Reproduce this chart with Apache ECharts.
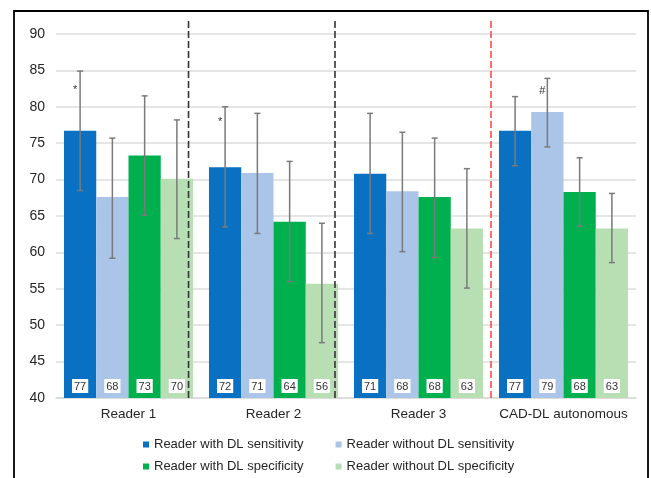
<!DOCTYPE html>
<html>
<head>
<meta charset="utf-8">
<script src="https://cdn.jsdelivr.net/npm/echarts@6/dist/echarts.min.js"></script>
<style>html,body{margin:0;padding:0;background:#fff;}#c{width:651px;height:478px;}</style>
</head>
<body>
<div id="c"></div>
<script>
var categories = ['Reader 1', 'Reader 2', 'Reader 3', 'CAD-DL autonomous'];
var seriesNames = ['Reader with DL sensitivity', 'Reader without DL sensitivity', 'Reader with DL specificity', 'Reader without DL specificity'];
var withDLSens = [76.7, 71.7, 70.8, 76.7];
var withoutDLSens = [67.6, 70.9, 68.4, 79.3];
var withDLSpec = [73.3, 64.2, 67.6, 68.3];
var withoutDLSpec = [70.1, 55.7, 63.3, 63.3];
// confidence intervals [low, high] per category
var ciWithDLSens = [[68.5, 84.9], [63.5, 80.0], [62.6, 79.1], [71.9, 81.4]];
var ciWithoutDLSens = [[59.2, 75.7], [62.6, 79.1], [60.1, 76.5], [74.5, 83.9]];
var ciWithDLSpec = [[65.1, 81.5], [56.0, 72.5], [59.3, 75.7], [63.6, 73.0]];
var ciWithoutDLSpec = [[61.9, 78.2], [47.6, 64.0], [55.1, 71.5], [58.6, 68.1]];
// significance marks: [category, series, symbol, y value]
var marks = [[0, 0, '*', 82.3], [1, 0, '*', 77.9], [3, 1, '#', 82.2]];
// separators on a 0..4 category scale
var separatorPos = [0.914, 1.924, 3.0];
var separatorColors = ['#333333', '#333333', '#ff4a4a'];
var yTicks = [40, 45, 50, 55, 60, 65, 70, 75, 80, 85, 90];

var colors = ['#0a70c2', '#aac5e8', '#00b04f', '#b8dfb4'];
var values = [withDLSens, withoutDLSens, withDLSpec, withoutDLSpec];
var cis = [ciWithDLSens, ciWithoutDLSens, ciWithDLSpec, ciWithoutDLSpec];
var GAP = 0.11;

function barOffset(api, s) {
  var band = api.size([1, 0])[0];
  var bw = band * (1 - GAP) / 4;
  return { bw: bw, off: (s - 1.5) * bw };
}

var series = [];
values.forEach(function (vals, s) {
  series.push({
    name: seriesNames[s],
    type: 'bar',
    data: vals,
    barGap: '0%',
    barCategoryGap: (GAP * 100) + '%',
    itemStyle: { color: colors[s] },
    label: {
      show: true,
      position: 'insideBottom',
      distance: 5,
      formatter: function (p) { return Math.round(p.value); },
      backgroundColor: '#fff',
      padding: [2, 2, 1, 2],
      fontSize: 11,
      color: '#333',
      fontFamily: 'Liberation Sans'
    }
  });
});

cis.forEach(function (ci, s) {
  series.push({
    type: 'custom',
    silent: true,
    z: 5,
    data: ci.map(function (d, i) { return [i, d[0], d[1]]; }),
    encode: { x: 0, y: [1, 2] },
    renderItem: function (params, api) {
      var o = barOffset(api, s);
      var lo = api.coord([api.value(0), api.value(1)]);
      var hi = api.coord([api.value(0), api.value(2)]);
      var x = lo[0] + o.off;
      var st = { stroke: '#7a7a7a', lineWidth: 1.5 };
      return {
        type: 'group',
        children: [
          { type: 'line', shape: { x1: x, y1: lo[1], x2: x, y2: hi[1] }, style: st },
          { type: 'line', shape: { x1: x - 3, y1: lo[1], x2: x + 3, y2: lo[1] }, style: st },
          { type: 'line', shape: { x1: x - 3, y1: hi[1], x2: x + 3, y2: hi[1] }, style: st }
        ]
      };
    }
  });
});

series.push({
  type: 'custom',
  silent: true,
  z: 6,
  data: marks.map(function (m) { return [m[0], m[3], m[1]]; }),
  encode: { x: 0, y: 1 },
  renderItem: function (params, api) {
    var m = marks[params.dataIndex];
    var o = barOffset(api, m[1]);
    var p = api.coord([api.value(0), api.value(1)]);
    return {
      type: 'text',
      x: p[0] + o.off - 5,
      y: p[1],
      style: {
        text: m[2],
        fontSize: 11,
        fill: '#333',
        align: 'center',
        verticalAlign: 'middle',
        fontFamily: 'Liberation Sans'
      }
    };
  }
});

separatorPos.forEach(function (x, i) {
  series.push({
    type: 'line',
    xAxisIndex: 1,
    yAxisIndex: 1,
    silent: true,
    symbol: 'none',
    z: 4,
    data: [[x, 40], [x, 92]],
    lineStyle: { color: separatorColors[i], width: 1.6, type: [7, 3] }
  });
});

var chart = echarts.init(document.getElementById('c'));
chart.setOption({
  animation: false,
  textStyle: { fontFamily: 'Liberation Sans' },
  graphic: [{
    type: 'rect',
    shape: { x: 14, y: 11, width: 634, height: 500 },
    style: { fill: 'none', stroke: '#000', lineWidth: 1.8 },
    silent: true
  }],
  grid: [
    { left: 56, right: 15, top: 34, bottom: 80 },
    { left: 56, right: 15, top: 20, bottom: 80 }
  ],
  legend: [
    {
      data: [seriesNames[0], seriesNames[1]],
      left: 138, top: 433, itemWidth: 6, itemHeight: 6, itemGap: 32,
      icon: 'rect',
      textStyle: { fontSize: 13, color: '#262626', fontFamily: 'Liberation Sans' }
    },
    {
      data: [seriesNames[2], seriesNames[3]],
      left: 138, top: 455, itemWidth: 6, itemHeight: 6, itemGap: 32,
      icon: 'rect',
      textStyle: { fontSize: 13, color: '#262626', fontFamily: 'Liberation Sans' }
    }
  ],
  xAxis: [
    {
      type: 'category',
      data: categories,
      gridIndex: 0,
      axisLine: { show: true, lineStyle: { color: '#d9d9d9', width: 1.5 } },
      axisTick: { show: false },
      axisLabel: { interval: 0, fontSize: 13.5, color: '#262626', margin: 9, fontFamily: 'Liberation Sans' }
    },
    { type: 'value', gridIndex: 1, min: 0, max: 4, show: false }
  ],
  yAxis: [
    {
      type: 'value',
      gridIndex: 0,
      min: yTicks[0],
      max: yTicks[yTicks.length - 1],
      interval: 5,
      axisLine: { show: false },
      axisTick: { show: false },
      splitLine: { lineStyle: { color: '#dcdcdc', width: 1.5 } },
      axisLabel: { fontSize: 14, color: '#262626', margin: 11, fontFamily: 'Liberation Sans' }
    },
    { type: 'value', gridIndex: 1, min: 40, max: 92, show: false }
  ],
  series: series
});
</script>
</body>
</html>
